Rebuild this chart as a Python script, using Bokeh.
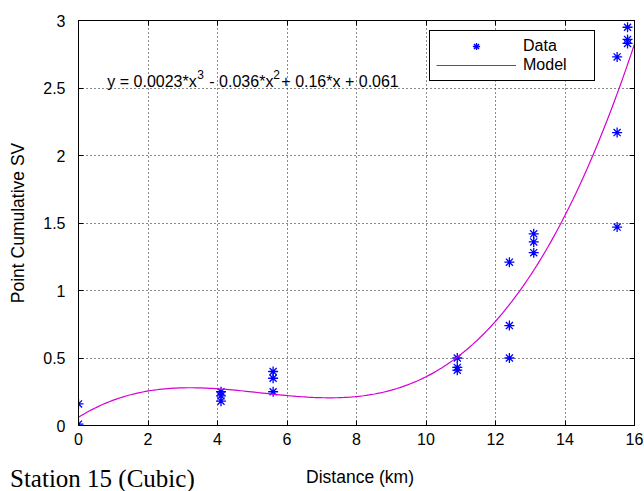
import numpy as np
from bokeh.plotting import figure
from bokeh.layouts import column
from bokeh.models import (LinearAxis, Range1d, Label, Legend, LegendItem,
                          FixedTicker, NumeralTickFormatter, Div)
from bokeh.embed import file_html
from bokeh.resources import INLINE

# Measured point cumulative SV along the transect
distance_km = [0, 0, 4.1, 4.1, 4.1, 5.6, 5.6, 5.6, 10.9, 10.9, 10.9,
               12.4, 12.4, 12.4, 13.1, 13.1, 13.1, 15.5, 15.5, 15.5,
               15.8, 15.8, 15.8]
point_sv = [0.16, 0.01, 0.25, 0.22, 0.18, 0.40, 0.35, 0.25, 0.50, 0.43, 0.41,
            1.21, 0.74, 0.50, 1.42, 1.36, 1.28, 2.73, 2.17, 1.47,
            2.95, 2.86, 2.83]

# Cubic model coefficients (highest power first)
cubic_coef = [0.0023, -0.036, 0.16, 0.061]

x_ticks = [0, 2, 4, 6, 8, 10, 12, 14, 16]
y_ticks = [0, 0.5, 1, 1.5, 2, 2.5, 3]

x_title = "Distance (km)"
y_title = "Point Cumulative SV"
caption = "Station 15 (Cubic)"

FONT = "Liberation Sans"

p = figure(width=644, height=462, x_range=Range1d(0, 16), y_range=Range1d(0, 3),
           output_backend="svg", toolbar_location=None,
           min_border_left=78, min_border_right=10, min_border_top=20,
           min_border_bottom=37)
p.background_fill_color = "white"
p.border_fill_color = "white"
p.outline_line_color = "black"
p.outline_line_width = 1
p.outline_line_alpha = 1

p.xaxis.ticker = FixedTicker(ticks=x_ticks)
p.yaxis.ticker = FixedTicker(ticks=y_ticks)
p.yaxis.formatter = NumeralTickFormatter(format="0.[0]")
p.xaxis.formatter = NumeralTickFormatter(format="0")

for ax in (p.xaxis[0], p.yaxis[0]):
    ax.major_tick_in = 5
    ax.major_tick_out = 0
    ax.minor_tick_line_color = None
    ax.axis_line_color = "black"
    ax.major_tick_line_color = "black"
    ax.major_label_text_font = FONT
    ax.major_label_text_font_size = "16px"
    ax.major_label_text_color = "black"
    ax.axis_label_text_font = FONT
    ax.axis_label_text_font_size = "17.5px"
    ax.axis_label_text_font_style = "normal"
    ax.axis_label_text_color = "black"

p.yaxis.axis_label = y_title
p.xaxis.major_label_standoff = 7
p.yaxis.major_label_standoff = 13
p.yaxis.axis_label_standoff = 12

# Box ticks on the top and right edges (no labels)
for place, ticks in (("right", y_ticks), ("above", x_ticks)):
    ax = LinearAxis(ticker=FixedTicker(ticks=ticks), major_tick_in=5,
                    major_tick_out=0, minor_tick_line_color=None,
                    major_label_text_color=None, major_label_text_font_size="1px",
                    major_label_standoff=0, axis_line_color="black")
    p.add_layout(ax, place)

p.grid.grid_line_color = "black"
p.grid.grid_line_dash = "1 3"
p.grid.grid_line_width = 1
p.grid.grid_line_alpha = 0.9
p.xgrid.ticker = FixedTicker(ticks=x_ticks)
p.ygrid.ticker = FixedTicker(ticks=y_ticks)

# Data points
r_data = p.scatter(distance_km, point_sv, marker="asterisk", size=10,
                   line_color="#0000ff", line_width=1.3)

# Cubic model curve
x_model = np.linspace(0, 16, 200)
y_model = np.polyval(cubic_coef, x_model)
r_model = p.line(x_model, y_model, line_color="#d400d4", line_width=1.2)

legend = Legend(items=[LegendItem(label="Data", renderers=[r_data]),
                       LegendItem(label="Model", renderers=[r_model])],
                location=(351, 344), orientation="vertical",
                border_line_color="black", border_line_width=1, border_line_alpha=1,
                background_fill_color="white", background_fill_alpha=1,
                padding=6, spacing=1, margin=0,
                glyph_width=80, glyph_height=18, label_height=18, label_width=65,
                label_standoff=7, label_text_font=FONT, label_text_font_size="16px",
                label_text_color="black")
p.add_layout(legend)

# Fitted equation with superscript powers
c3, c2, c1, c0 = cubic_coef
eq_x, eq_y = 0.83, 2.548
eq_parts = [
    (f"y = {c3:g}*x", 0, 0, "16px"),
    ("3", 90, 7, "12px"),
    (f"- {abs(c2):g}*x", 102, 0, "16px"),
    ("2", 166, 7, "12px"),
    (f"+ {c1:g}*x + {c0:g}", 174, 0, "16px"),
]
for txt, dx, dy, fs in eq_parts:
    p.add_layout(Label(x=eq_x, y=eq_y, x_offset=dx, y_offset=dy, text=txt,
                       text_font=FONT, text_font_size=fs, text_color="black",
                       text_baseline="alphabetic", text_align="left"))

# Bottom row: caption on the left, x-axis title centred under the frame
footer = Div(width=644, height=29, margin=0, text=(
    '<div style="position:relative;width:644px;height:29px;">'
    '<span style="position:absolute;left:10px;top:4px;white-space:nowrap;'
    "font-family:'Liberation Serif';font-size:25px;line-height:25px;color:black;\">"
    f'{caption}</span>'
    '<span style="position:absolute;left:82px;width:556px;top:7px;text-align:center;'
    "white-space:nowrap;font-family:'Liberation Sans';font-size:17.5px;line-height:17px;color:black;\">"
    f'{x_title}</span></div>'))

layout = column(p, footer, spacing=0)

open("out.html", "w").write(file_html(layout, INLINE))
